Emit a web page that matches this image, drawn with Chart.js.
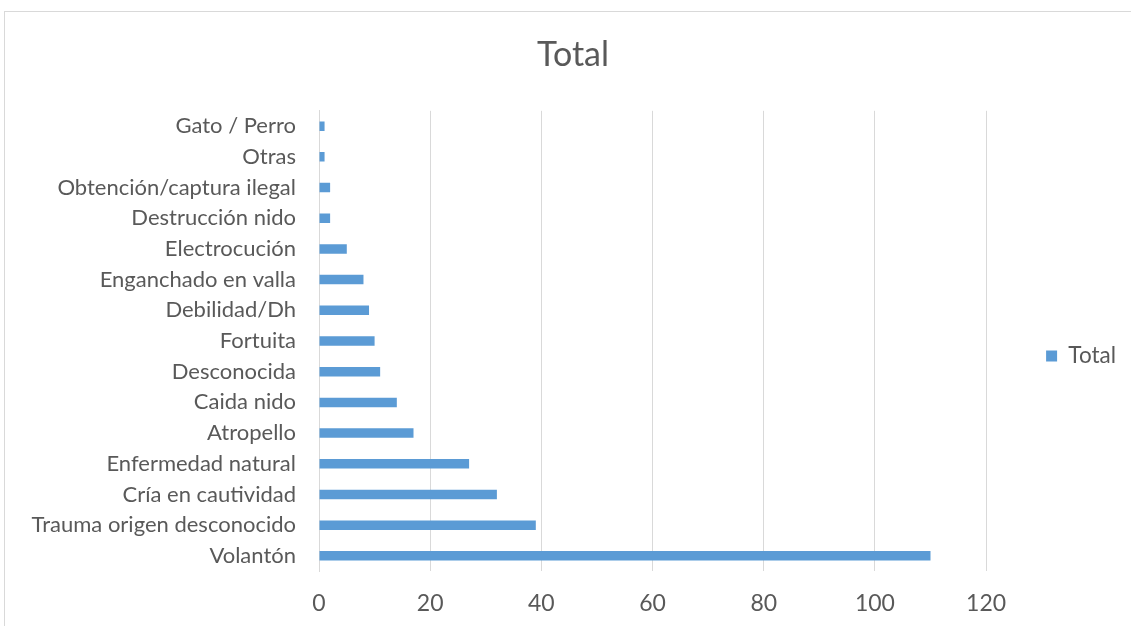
<!DOCTYPE html>
<html>
<head>
<meta charset="utf-8">
<script src="https://cdn.jsdelivr.net/npm/chart.js@4"></script>
<style>
    html, body { margin: 0; padding: 0; background: #fff; overflow: hidden; }
    #frame {
        position: absolute; left: 4px; top: 11px;
        width: 1200px; height: 700px;
        border: 1px solid #d9d9d9;
    }
    #chart { position: absolute; left: 0; top: 0; }
</style>
</head>
<body>
<div id="frame"></div>
<canvas id="chart" width="1131" height="626"></canvas>
<script>
// categories, top to bottom as shown
const categories = [
    'Gato / Perro', 'Otras', 'Obtención/captura ilegal', 'Destrucción nido',
    'Electrocución', 'Enganchado en valla', 'Debilidad/Dh', 'Fortuita',
    'Desconocida', 'Caida nido', 'Atropello', 'Enfermedad natural',
    'Cría en cautividad', 'Trauma origen desconocido', 'Volantón'
];
const totals = [1, 1, 2, 2, 5, 8, 9, 10, 11, 14, 17, 27, 32, 39, 110];
const xTicks = [0, 20, 40, 60, 80, 100, 120];

const textColor = '#595959';
const gridColor = '#d9d9d9';
const fontFamily = 'Lato, "Open Sans", sans-serif';

const ctx = document.getElementById('chart').getContext('2d');
new Chart(ctx, {
    type: 'bar',
    data: {
        labels: categories,
        datasets: [{
            label: 'Total',
            data: totals,
            backgroundColor: '#5b9bd5',
            borderWidth: 0,
            categoryPercentage: 1,
            barPercentage: 0.31
        }]
    },
    options: {
        indexAxis: 'y',
        responsive: false,
        animation: false,
        layout: { padding: { left: 20, right: 5, top: 0, bottom: 9 } },
        plugins: {
            title: {
                display: true,
                text: 'Total',
                color: textColor,
                font: { family: fontFamily, size: 34, weight: 'normal' },
                padding: { top: 35, bottom: 35 }
            },
            legend: {
                position: 'right',
                // empty title only pushes the item down to the middle
                title: { display: true, text: '', padding: { top: 0, bottom: 80.6 } },
                labels: {
                    boxWidth: 11,
                    boxHeight: 11,
                    padding: 60,
                    color: textColor,
                    font: { family: fontFamily, size: 22.5 }
                }
            },
            tooltip: { enabled: false }
        },
        scales: {
            x: {
                min: 0,
                max: 120,
                afterBuildTicks: function (scale) {
                    scale.ticks = xTicks.map(v => ({ value: v }));
                },
                afterFit: function (scale) { scale.height = 45.8; },
                grid: { color: gridColor, lineWidth: 1, drawTicks: false },
                border: { display: false },
                ticks: {
                    padding: 18.2,
                    color: textColor,
                    font: { family: fontFamily, size: 23 }
                }
            },
            y: {
                afterFit: function (scale) { scale.width = 299; },
                grid: { display: false, drawTicks: false },
                border: { display: true, color: gridColor, width: 1 },
                ticks: {
                    padding: 23,
                    color: textColor,
                    font: { family: fontFamily, size: 22 }
                }
            }
        }
    }
});
</script>
</body>
</html>
